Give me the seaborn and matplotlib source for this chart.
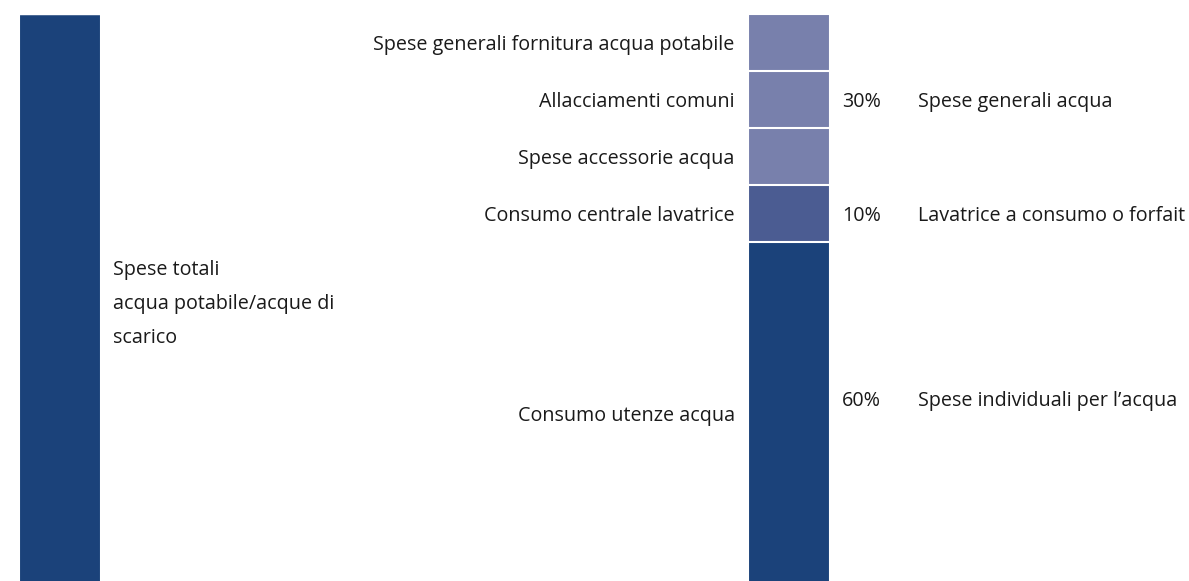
import numpy as np
import pandas as pd
import matplotlib.pyplot as plt
import seaborn as sns

# Data: shares of water costs (percent)
segment_labels = ["Spese generali fornitura acqua potabile", "Allacciamenti comuni",
                  "Spese accessorie acqua", "Consumo centrale lavatrice", "Consumo utenze acqua"]
segment_values = [10, 10, 10, 10, 60]
segment_colors = ["#7880AC", "#7880AC", "#7880AC", "#4B5C92", "#1B427A"]

group_pcts = ["30%", "10%", "60%"]
group_labels = ["Spese generali acqua", "Lavatrice a consumo o forfait", "Spese individuali per l\u2019acqua"]
group_sizes = [3, 1, 1]

total_label = "Spese totali\nacqua potabile/acque di\nscarico"
total_value = 100
total_color = "#1B427A"

bars = ["totale", "ripartizione"]

sns.set_theme(style="white")
plt.rcParams['font.family'] = ['Open Sans', 'DejaVu Sans']

fig = plt.figure(figsize=(11.89, 5.81), dpi=100)
ax = fig.add_axes([0, 0, 1, 1])

# y axis runs downwards (0 = top of the bars)
cum = np.cumsum(segment_values)
width = 0.1125

# total bar on the left
df_total = pd.DataFrame({"bar": bars, "value": [total_value, 0]})
sns.barplot(data=df_total, x="bar", y="value", color=total_color, width=width,
            edgecolor="white", linewidth=1.5, ax=ax, order=bars, saturation=1)

# stacked bar on the right: draw cumulative bars, largest first
for i in range(len(segment_values) - 1, -1, -1):
    df_seg = pd.DataFrame({"bar": bars, "value": [0, cum[i]]})
    sns.barplot(data=df_seg, x="bar", y="value", color=segment_colors[i], width=width,
                edgecolor="white", linewidth=1.5, ax=ax, order=bars, saturation=1)

ax.set_xlim(-0.0823, 1.5487)
ax.set_ylim(99.47, -2.46)
ax.axis("off")

txt = dict(fontsize=14.2, color="#1a1a1a", va="center")
dy = 0.45  # small nudge so the text sits like in the original

# segment names, right aligned next to the stacked bar
mids = cum - np.array(segment_values) / 2
for lab, m in zip(segment_labels, mids):
    ax.text(1 - width / 2 - 0.018, m + dy, lab, ha="right", **txt)

# group percentages and descriptions
start = 0
for pct, lab, n in zip(group_pcts, group_labels, group_sizes):
    top = cum[start] - segment_values[start]
    bottom = cum[start + n - 1]
    y = (top + bottom) / 2 + dy
    if n == 1 and segment_values[start] > 30:
        y -= 2.5
    ax.text(1.0727, y, pct, ha="left", **txt)
    ax.text(1.177, y, lab, ha="left", **txt)
    start += n

ax.text(0.0727, total_value / 2 + 0.9, total_label, ha="left", linespacing=1.95, **txt)

fig.savefig("out.png", dpi=100, facecolor="white")
